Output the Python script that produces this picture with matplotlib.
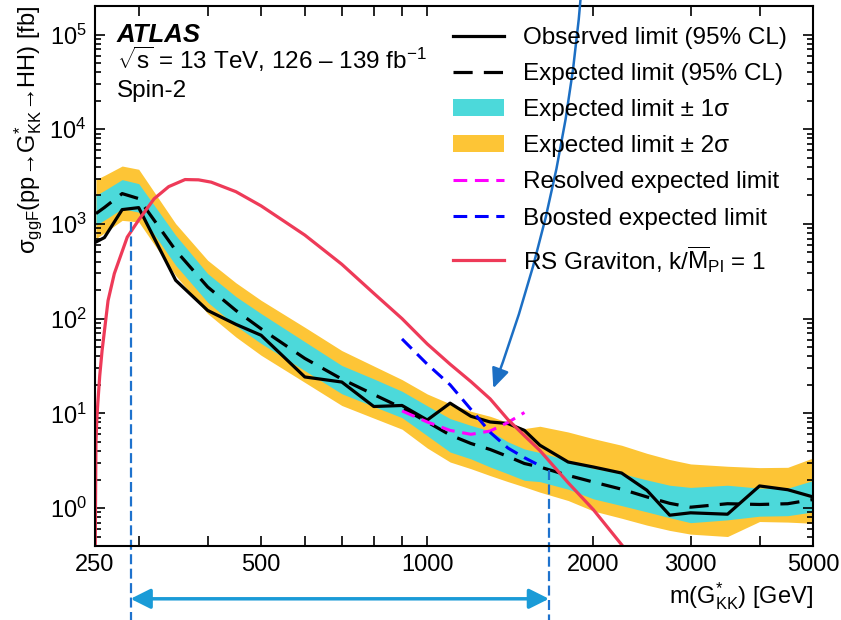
import matplotlib
matplotlib.use('Agg')
import matplotlib.pyplot as plt
import numpy as np
from matplotlib.lines import Line2D
from matplotlib.patches import Patch
from matplotlib.ticker import LogLocator, NullLocator, NullFormatter, FixedLocator, FixedFormatter

plt.rcParams['font.family'] = ['Liberation Sans', 'DejaVu Sans']
plt.rcParams['mathtext.fontset'] = 'custom'
plt.rcParams['mathtext.rm'] = 'Liberation Sans'
plt.rcParams['mathtext.it'] = 'Liberation Sans:italic'
plt.rcParams['mathtext.bf'] = 'Liberation Sans:bold'
plt.rcParams['mathtext.sf'] = 'Liberation Sans'

# ---------------- data ----------------
mass = [251, 260, 280, 300, 350, 400, 450, 500, 600, 700, 800, 900, 1000, 1100, 1200,
        1300, 1400, 1500, 1600, 1800, 2000, 2250, 2500, 2750, 3000, 3500, 4000, 4500, 5000]
observed = [644, 717, 1416, 1486, 254, 122, 87, 66.7, 24.2, 21.4, 11.8, 12.1, 8.5, 12.8, 9.3,
            8.1, 7.8, 6.6, 4.6, 3.06, 2.71, 2.34, 1.54, 0.84, 0.89, 0.86, 1.71, 1.56, 1.31]
expected = [1285, 1490, 2090, 1850, 526, 216, 122, 78, 38, 23, 15.8, 11.4, 8.1, 5.9, 4.8,
            4.15, 3.5, 2.95, 2.71, 2.21, 1.88, 1.58, 1.31, 1.12, 1.02, 1.11, 1.09, 1.11, 1.23]
exp_p1 = [2004, 2255, 2937, 2663, 759, 299, 171, 113, 57, 32, 23.1, 17.1, 12.0, 8.8, 7.45,
          6.5, 5.0, 4.2, 3.85, 3.19, 2.62, 2.31, 1.98, 1.74, 1.65, 1.74, 1.62, 1.62, 1.95]
exp_m1 = [967, 1097, 1450, 1330, 366, 149, 84, 54.6, 28.2, 16.1, 11.8, 9.0, 5.8, 3.9, 3.3,
          2.71, 2.3, 1.96, 1.9, 1.58, 1.25, 1.06, 0.91, 0.79, 0.70, 0.75, 0.82, 0.83, 0.91]
exp_p2 = [2937, 3250, 4085, 3775, 1007, 413, 239, 156, 81, 46, 31.6, 22.7, 16.0, 12.6, 10.5,
          9.3, 8.0, 6.9, 7.3, 6.35, 5.4, 4.6, 3.78, 3.25, 2.92, 2.76, 2.67, 2.69, 3.38]
exp_m2 = [700, 803, 1090, 1050, 285, 113, 64, 41, 21.2, 12.1, 8.9, 6.8, 4.3, 3.06, 2.6,
          2.2, 1.9, 1.67, 1.47, 1.2, 0.93, 0.78, 0.66, 0.58, 0.53, 0.50, 0.72, 0.71, 0.69]

res_mass = [900, 1000, 1100, 1200, 1300, 1400, 1500]
res_exp = [10.6, 8.1, 6.6, 6.0, 6.5, 8.0, 10.2]

boo_mass = [900, 1000, 1100, 1200, 1300, 1400, 1500, 1600]
boo_exp = [61, 33, 20, 11, 6.3, 4.3, 3.4, 2.8]

rs_mass = [250.2, 251, 252, 253, 255, 257.5, 264, 271, 286, 300, 320, 340, 364, 385, 406,
           450, 500, 550, 600, 700, 800, 900, 1000, 1100, 1200, 1300, 1400, 1500, 1600,
           1800, 2000, 2250, 2400]
rs_xsec = [0.35, 5, 9, 13, 25, 46, 155, 299, 725, 1100, 1845, 2475, 2940, 2920, 2760,
           2190, 1550, 1070, 762, 375, 185, 100, 54, 33, 21.6, 14.2, 8.6, 5.8, 4.05,
           1.85, 0.96, 0.41, 0.25]

xtick_vals = [250, 300, 400, 500, 600, 700, 800, 900, 1000, 2000, 3000, 4000, 5000]
xtick_labels = ['250', '', '', '500', '', '', '', '', '1000', '2000', '3000', '', '5000']

excl_low, excl_high = 290, 1662
excl_low_top, excl_high_top = 1050, 2.55

legend_labels = ['Observed limit (95% CL)', 'Expected limit (95% CL)',
                 'Expected limit \u00b1 1\u03c3', 'Expected limit \u00b1 2\u03c3',
                 'Resolved expected limit', 'Boosted expected limit',
                 r'RS Graviton, k/$\overline{\mathrm{M}}_{\mathrm{Pl}}$ = 1']

# ---------------- colours ----------------
c_yellow = '#fdc536'
c_cyan = '#4cd9da'
c_red = '#ee3a58'
c_mag = '#ff00ff'
c_blue = '#0000ff'
c_excl = '#1e72cd'
c_harrow = '#1a9bd7'
c_carrow = '#1c6fc4'

dash_exp = (0, (6, 3.5))
dash_sub = (0, (4.5, 2.5))

W, H = 841, 620
fig = plt.figure(figsize=(W / 100, H / 100), dpi=100)
ax = fig.add_axes([95 / W, (H - 545.7) / H, (813 - 95) / W, (545.7 - 6) / H])
ax.set_xscale('log')
ax.set_yscale('log')

ax.fill_between(mass, exp_m2, exp_p2, color=c_yellow, lw=0)
ax.fill_between(mass, exp_m1, exp_p1, color=c_cyan, lw=0)
ax.plot(mass, expected, color='black', lw=2.3, ls=dash_exp)
ax.plot(mass, observed, color='black', lw=2.3)
ax.plot(res_mass, res_exp, color=c_mag, lw=2.2, ls=dash_sub)
ax.plot(boo_mass, boo_exp, color=c_blue, lw=2.2, ls=dash_sub)
ax.plot(rs_mass, rs_xsec, color=c_red, lw=2.3)

ax.set_xlim(250, 5000)
ax.set_ylim(0.4, 2e5)

ax.xaxis.set_major_locator(FixedLocator(xtick_vals))
ax.xaxis.set_major_formatter(FixedFormatter(xtick_labels))
ax.xaxis.set_minor_locator(NullLocator())
ax.yaxis.set_major_locator(LogLocator(base=10))
ax.yaxis.set_minor_locator(LogLocator(base=10, subs=np.arange(2, 10)))
ax.yaxis.set_minor_formatter(NullFormatter())

ax.tick_params(which='both', direction='in', top=True, right=True, width=1.2)
ax.tick_params(which='major', length=7, labelsize=17, pad=6)
ax.tick_params(which='minor', length=4)
for s in ax.spines.values():
    s.set_linewidth(1.5)

ax.set_xlabel(r'm($\mathrm{G}^{*}_{\mathrm{KK}}$) [GeV]', fontsize=17, loc='right', labelpad=3)
ax.set_ylabel('\u03c3$_{\\mathrm{ggF}}$(pp\u2192G$^{*}_{\\mathrm{KK}}$\u2192HH) [fb]',
              fontsize=17, loc='top', labelpad=4)

# text block
fig.text(117 / W, 1 - 41.7 / H, 'ATLAS', fontsize=18.5, fontweight='bold', style='italic', va='baseline')
fig.text(117 / W, 1 - 69 / H, '$\\sqrt{\\mathrm{s}}$ = 13 TeV, 126 \u2013 139 fb$^{-1}$',
         fontsize=17.5, va='baseline')
fig.text(117 / W, 1 - 96.7 / H, 'Spin-2', fontsize=17.5, va='baseline')

handles = [Line2D([], [], color='black', lw=2.3),
           Line2D([], [], color='black', lw=2.3, ls=dash_exp),
           Patch(facecolor=c_cyan, lw=0),
           Patch(facecolor=c_yellow, lw=0),
           Line2D([], [], color=c_mag, lw=2.2, ls=dash_sub),
           Line2D([], [], color=c_blue, lw=2.2, ls=dash_sub),
           Line2D([], [], color=c_red, lw=2.3)]
ax.legend(handles, legend_labels, loc='upper left', bbox_to_anchor=(453 / W, 1 - 27 / H),
          bbox_transform=fig.transFigure, frameon=False, fontsize=17.5, borderpad=0,
          borderaxespad=0, handlelength=2.1, handletextpad=0.8, labelspacing=0.58)

# exclusion markers
ax.plot([excl_low, excl_low], [excl_low_top, 0.06], color=c_excl, lw=1.6, ls=(0, (4.5, 2)), clip_on=False)
ax.plot([excl_high, excl_high], [excl_high_top, 0.06], color=c_excl, lw=1.6, ls=(0, (4.5, 2)), clip_on=False)
ax.annotate('', xy=(excl_high, 0.11), xytext=(excl_low, 0.11), xycoords='data',
            arrowprops=dict(arrowstyle='<|-|>,head_length=0.8,head_width=0.4', color=c_harrow,
                            lw=2.5, shrinkA=0, shrinkB=0, mutation_scale=15),
            annotation_clip=False)
ax.annotate('', xy=(493.3 / W, 1 - 388.3 / H), xytext=(581 / W, 1.01), xycoords='figure fraction',
            textcoords='figure fraction',
            arrowprops=dict(arrowstyle='-|>,head_length=0.8,head_width=0.35', color=c_carrow,
                            lw=1.8, shrinkA=0, shrinkB=0, mutation_scale=15,
                            connectionstyle='arc3,rad=-0.07'),
            annotation_clip=False)

fig.savefig('out.png', dpi=100)
